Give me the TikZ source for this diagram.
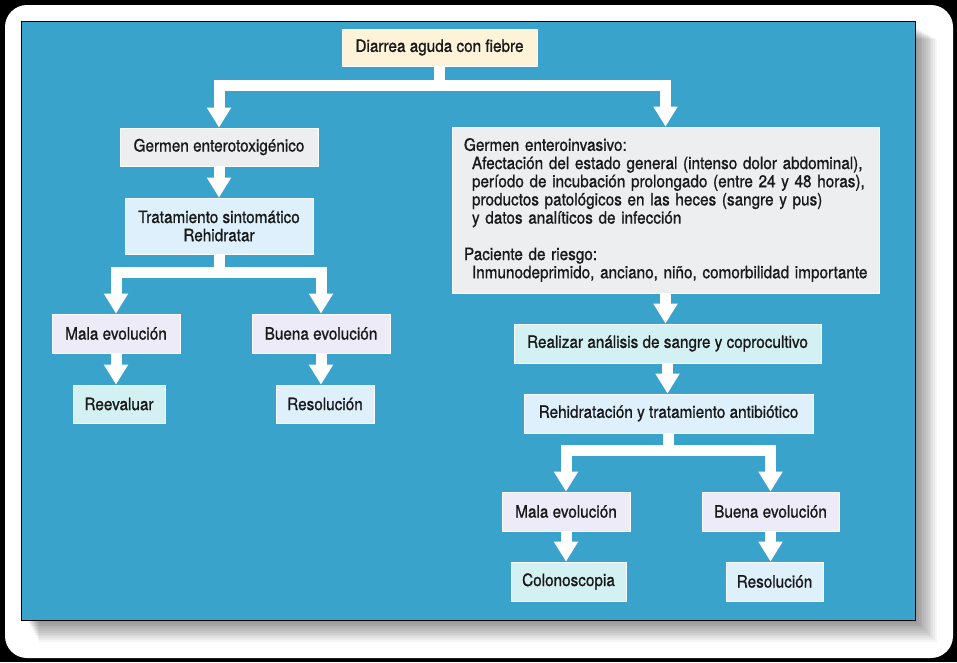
\documentclass[tikz,border=0pt]{standalone}
\usepackage{fontspec}
\setmainfont{TeX Gyre Heros}[FakeStretch=0.9,FakeBold=1]
\usetikzlibrary{arrows.meta}
\definecolor{panelblue}{RGB}{58,163,204}
\definecolor{creamfill}{RGB}{252,243,216}
\definecolor{grayfill}{RGB}{236,238,240}
\definecolor{bluefill}{RGB}{221,240,251}
\definecolor{lavfill}{RGB}{237,235,248}
\definecolor{cyanfill}{RGB}{211,240,242}
\definecolor{textc}{RGB}{25,25,25}
\tikzset{
  box/.style={draw=white, line width=0.8pt, inner sep=0pt, text=textc,
    font=\fontsize{17}{18.2}\selectfont, align=center},
  cbox/.style={box, fill=creamfill},
  gbox/.style={box, fill=grayfill},
  bbox/.style={box, fill=bluefill},
  lbox/.style={box, fill=lavfill},
  ybox/.style={box, fill=cyanfill},
  flow/.style={draw=white, line width=11pt, line join=miter,
    -{Triangle[width=23pt,length=20pt]}}
}
\begin{document}
\begin{tikzpicture}[x=1pt,y=-1pt]
\useasboundingbox (0,0) rectangle (957,662);
\fill[black] (0,0) rectangle (957,662);
\fill[white, rounded corners=22pt] (5,5) rectangle (953,658);
% shadow of panel
\foreach \k in {0,...,11}
  \fill[black, opacity=0.04] (28+\k,28+\k) rectangle (917+1.8*\k,622+1.8*\k);
\fill[panelblue] (21,21) rectangle (915,620);
\draw[black, line width=1pt] (21,21) rectangle (915,620);

% nodes
\node[cbox, minimum width=195pt, minimum height=37pt] (D) at (439.5,47.5) {Diarrea aguda con fiebre};
\node[gbox, minimum width=198pt, minimum height=38pt] (G1) at (219,147) {Germen enterotoxigénico};
\node[bbox, minimum width=188pt, minimum height=56pt] (T) at (219,226) {Tratamiento sintomático\\Rehidratar};
\node[lbox, minimum width=128pt, minimum height=39pt] (M1) at (116,333.5) {Mala evolución};
\node[lbox, minimum width=138pt, minimum height=39pt] (B1) at (321,333.5) {Buena evolución};
\node[ybox, minimum width=92pt, minimum height=38pt] (Re) at (119,404) {Reevaluar};
\node[bbox, minimum width=98pt, minimum height=38pt] (Rs1) at (325,404) {Resolución};

\node[gbox, minimum width=427pt, minimum height=166pt, text width=403pt, align=left] (G2) at (665.5,210) {%
Germen enteroinvasivo:\\
\hspace*{8pt}Afectación del estado general (intenso dolor abdominal),\\
\hspace*{8pt}período de incubación prolongado (entre 24 y 48 horas),\\
\hspace*{8pt}productos patológicos en las heces (sangre y pus)\\
\hspace*{8pt}y datos analíticos de infección\\[18.2pt]
Paciente de riesgo:\\
\hspace*{8pt}Inmunodeprimido, anciano, niño, comorbilidad importante};
\node[ybox, minimum width=307pt, minimum height=39pt] (An) at (667.5,343.5) {Realizar análisis de sangre y coprocultivo};
\node[bbox, minimum width=289pt, minimum height=39pt] (Rt) at (668.5,413.5) {Rehidratación y tratamiento antibiótico};
\node[lbox, minimum width=128pt, minimum height=39pt] (M2) at (566,511.5) {Mala evolución};
\node[lbox, minimum width=137pt, minimum height=39pt] (B2) at (770.5,511.5) {Buena evolución};
\node[ybox, minimum width=115pt, minimum height=39pt] (Co) at (568.5,581.5) {Colonoscopia};
\node[bbox, minimum width=97pt, minimum height=39pt] (Rs2) at (774.5,581.5) {Resolución};

% connectors
\draw[flow] (D.south) -- ++(0,19.5) -| (G1.north);
\draw[flow] (D.south) -- ++(0,19.5) -| (G2.north);
\draw[flow] (G1.south) -- (G1.south |- T.north);
\draw[flow] (T.south) -- ++(0,18.5) -| (M1.north);
\draw[flow] (T.south) -- ++(0,18.5) -| (B1.north);
\draw[flow] (M1.south) -- (M1.south |- Re.north);
\draw[flow] (B1.south) -- (B1.south |- Rs1.north);
\draw[flow] (G2.south) -- (G2.south |- An.north);
\draw[flow] (An.south) -- (An.south |- Rt.north);
\draw[flow] (Rt.south) -- ++(0,17.5) -| (M2.north);
\draw[flow] (Rt.south) -- ++(0,17.5) -| (B2.north);
\draw[flow] (M2.south) -- (M2.south |- Co.north);
\draw[flow] (B2.south) -- (B2.south |- Rs2.north);
\end{tikzpicture}
\end{document}
